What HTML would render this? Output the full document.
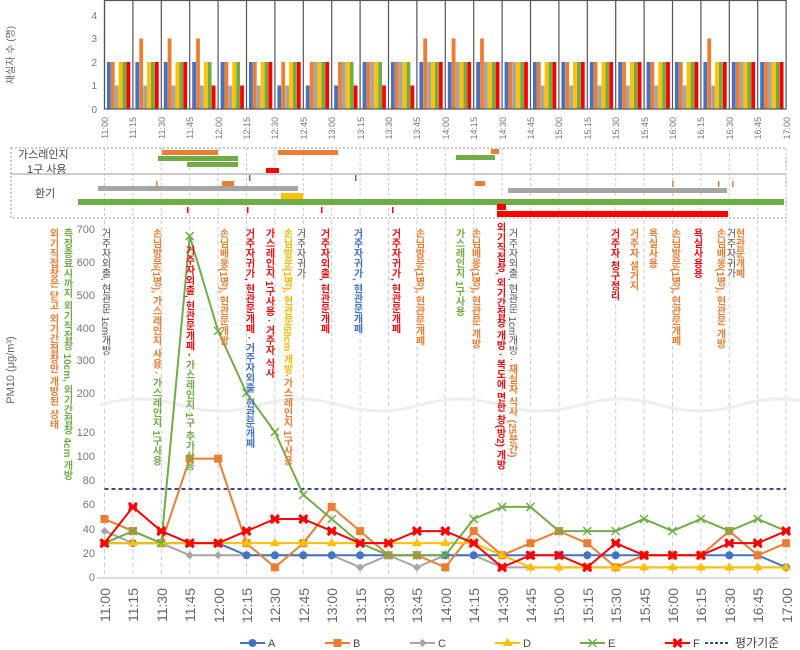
<!DOCTYPE html>
<html><head><meta charset="utf-8">
<style>
body{margin:0;background:#fff;width:800px;height:650px;overflow:hidden;position:relative;font-family:"Liberation Sans","Noto Sans CJK KR",sans-serif;}
svg{position:absolute;left:0;top:0}
.v{position:absolute;writing-mode:vertical-rl;font-size:10px;line-height:11px;font-weight:bold;white-space:nowrap;font-family:"Liberation Sans","Noto Sans CJK KR",sans-serif;}
.o{color:#ED7D31}.g{color:#70AD47}.r{color:#E81010}.k{color:#505050;font-weight:normal}.b{color:#4472C4}.y{color:#F5B800}
</style></head><body>
<svg id="s" width="800" height="650" font-family="Liberation Sans, Noto Sans CJK KR, sans-serif">
<text transform="translate(14,55) rotate(-90)" font-size="10" fill="#666" text-anchor="middle">재실자 수 (명)</text>
<text transform="translate(14,370) rotate(-90)" font-size="11" fill="#666" text-anchor="middle">PM10 (μg/m³)</text>
<g font-size="10" fill="#777" text-anchor="end">
<text x="97" y="113">0</text><text x="97" y="89">1</text><text x="97" y="66">2</text><text x="97" y="42">3</text><text x="97" y="19">4</text>
</g>
<g font-size="11" fill="#777" text-anchor="end">
<text x="95" y="581">0</text><text x="95" y="557">20</text><text x="95" y="533">40</text><text x="95" y="508">60</text><text x="95" y="484">80</text><text x="95" y="460">100</text><text x="95" y="436">120</text>
<text x="95" y="397">200</text><text x="95" y="364">300</text><text x="95" y="332">400</text><text x="95" y="299">500</text><text x="95" y="266">600</text><text x="95" y="233">700</text>
</g>
<g font-size="9" fill="#777" text-anchor="end">
<text transform="translate(108,117) rotate(-90)">11:00</text><text transform="translate(136,117) rotate(-90)">11:15</text><text transform="translate(165,117) rotate(-90)">11:30</text><text transform="translate(193,117) rotate(-90)">11:45</text><text transform="translate(222,117) rotate(-90)">12:00</text><text transform="translate(250,117) rotate(-90)">12:15</text><text transform="translate(278,117) rotate(-90)">12:30</text><text transform="translate(307,117) rotate(-90)">12:45</text><text transform="translate(335,117) rotate(-90)">13:00</text><text transform="translate(364,117) rotate(-90)">13:15</text><text transform="translate(392,117) rotate(-90)">13:30</text><text transform="translate(420,117) rotate(-90)">13:45</text><text transform="translate(449,117) rotate(-90)">14:00</text><text transform="translate(477,117) rotate(-90)">14:15</text><text transform="translate(506,117) rotate(-90)">14:30</text><text transform="translate(534,117) rotate(-90)">14:45</text><text transform="translate(562,117) rotate(-90)">15:00</text><text transform="translate(591,117) rotate(-90)">15:15</text><text transform="translate(619,117) rotate(-90)">15:30</text><text transform="translate(648,117) rotate(-90)">15:45</text><text transform="translate(676,117) rotate(-90)">16:00</text><text transform="translate(704,117) rotate(-90)">16:15</text><text transform="translate(733,117) rotate(-90)">16:30</text><text transform="translate(761,117) rotate(-90)">16:45</text><text transform="translate(790,117) rotate(-90)">17:00</text>
</g>
<g font-size="14" fill="#666" text-anchor="end">
<text transform="translate(110,588) rotate(-90)">11:00</text><text transform="translate(138,588) rotate(-90)">11:15</text><text transform="translate(167,588) rotate(-90)">11:30</text><text transform="translate(195,588) rotate(-90)">11:45</text><text transform="translate(224,588) rotate(-90)">12:00</text><text transform="translate(252,588) rotate(-90)">12:15</text><text transform="translate(280,588) rotate(-90)">12:30</text><text transform="translate(309,588) rotate(-90)">12:45</text><text transform="translate(337,588) rotate(-90)">13:00</text><text transform="translate(366,588) rotate(-90)">13:15</text><text transform="translate(394,588) rotate(-90)">13:30</text><text transform="translate(422,588) rotate(-90)">13:45</text><text transform="translate(451,588) rotate(-90)">14:00</text><text transform="translate(479,588) rotate(-90)">14:15</text><text transform="translate(508,588) rotate(-90)">14:30</text><text transform="translate(536,588) rotate(-90)">14:45</text><text transform="translate(564,588) rotate(-90)">15:00</text><text transform="translate(593,588) rotate(-90)">15:15</text><text transform="translate(621,588) rotate(-90)">15:30</text><text transform="translate(650,588) rotate(-90)">15:45</text><text transform="translate(678,588) rotate(-90)">16:00</text><text transform="translate(706,588) rotate(-90)">16:15</text><text transform="translate(735,588) rotate(-90)">16:30</text><text transform="translate(763,588) rotate(-90)">16:45</text><text transform="translate(792,588) rotate(-90)">17:00</text>
</g>
<g font-size="11" fill="#444">
<text x="18" y="158">가스레인지</text><text x="27" y="173">1구 사용</text><text x="35" y="197">환기</text>
<text x="268" y="647">A</text><text x="353" y="647">B</text><text x="438" y="647">C</text><text x="523" y="647">D</text><text x="608" y="647">E</text><text x="693" y="647">F</text><text x="735" y="647" font-size="12">평가기준</text>
</g>
</svg>

<div class="v o" style="left:47px;top:228px">외기직접창은 닫고 외기간접창만 개방된 상태</div>
<div class="v g" style="left:61px;top:228px">측정종료시까지 외기직접창 10cm, 외기간접창 4cm 개방</div>
<div class="v k" style="left:99px;top:228px">거주자외출, 현관문 1cm개방</div>
<div class="v o" style="left:150px;top:228px">손님방문(1명), 가스레인지 사용 · <span class="g">가스레인지 1구사용</span></div>
<div class="v r" style="left:183px;top:245px">거주자외출, 현관문개폐 · <span class="g">가스레인지 1구 추가사용</span></div>
<div class="v o" style="left:217px;top:228px">손님배웅(1명), 현관문개방</div>
<div class="v r" style="left:243px;top:228px">거주자귀가, 현관문개폐 · <span class="b">거주자외출, 현관문개폐</span></div>
<div class="v r" style="left:263px;top:228px">가스레인지 1구사용 · 거주자 식사</div>
<div class="v y" style="left:281px;top:228px">손님방문(1명), 현관문50cm 개방<span class="o">·가스레인지 1구사용</span></div>
<div class="v k" style="left:294px;top:228px">거주자귀가</div>
<div class="v r" style="left:318px;top:228px">거주자외출, 현관문개폐</div>
<div class="v b" style="left:351px;top:228px">거주자귀가, 현관문개폐</div>
<div class="v r" style="left:389px;top:228px">거주자귀가, 현관문개폐</div>
<div class="v o" style="left:413px;top:228px">손님방문(1명), 현관문개폐</div>
<div class="v g" style="left:453px;top:228px">가스레인지 1구사용</div>
<div class="v o" style="left:469px;top:228px">손님배웅(1명), 현관문 개방</div>
<div class="v r" style="left:494px;top:222px">외기직접창, 외기간접창 개방 · 복도에 면한 창(방2) 개방</div>
<div class="v k" style="left:506px;top:228px">거주자외출, 현관문 1cm개방 · <span class="o" style="font-weight:bold">재실자 식사 (25분간)</span></div>
<div class="v r" style="left:608px;top:228px">거주자 청구정리</div>
<div class="v o" style="left:627px;top:228px">거주자 설거지</div>
<div class="v o" style="left:646px;top:228px">욕실사용</div>
<div class="v o" style="left:669px;top:228px">손님방문(1명), 현관문개폐</div>
<div class="v r" style="left:691px;top:228px">욕실사용용</div>
<div class="v o" style="left:714px;top:228px">손님배웅(1명), 현관문 개방</div>
<div class="v k" style="left:724px;top:228px">거주자귀가</div>
<div class="v o" style="left:733px;top:228px">현관문개폐</div>

<script>
var s=document.getElementById('s'),NS='http://www.w3.org/2000/svg';
function el(t,a,front){var e=document.createElementNS(NS,t);for(var k in a)e.setAttribute(k,a[k]);if(front)s.insertBefore(e,s.firstChild);else s.appendChild(e);return e;}
var X=function(i){return 104.5+28.4*i;};
var col=['#4472C4','#ED7D31','#A5A5A5','#FFC000','#70AD47','#FF0000'];
var bars=[[2,2,1,2,2,2],[2,3,1,2,2,2],[2,3,1,2,2,2],[2,3,1,2,2,1],[2,2,1,2,2,1],[2,2,1,2,2,2],[1,2,1,2,2,2],[1,2,2,2,2,2],[1,2,2,2,2,1],[2,2,2,2,2,1],[2,2,2,2,2,1],[2,3,2,2,2,2],[2,3,2,2,2,2],[2,3,2,2,2,2],[2,2,2,2,2,2],[2,2,1,2,2,2],[2,2,1,2,2,2],[2,2,1,2,2,2],[2,2,1,2,2,2],[2,2,1,2,2,2],[2,2,1,2,2,2],[2,3,1,2,2,2],[2,2,2,2,2,2],[2,2,2,2,2,2]];
for(var g=0;g<24;g++){for(var j=0;j<6;j++){var h=bars[g][j]*23.5;el('rect',{x:X(g)+2.5+j*3.9,y:109-h,width:3.8,height:h,fill:col[j]});}
 el('line',{x1:X(g),y1:0,x2:X(g),y2:109,stroke:'#555','stroke-width':1.2});}
el('rect',{x:X(0),y:0.5,width:X(24)-X(0),height:108.5,fill:'none',stroke:'#555','stroke-width':1.2});
el('rect',{x:11,y:148,width:775,height:70,fill:'none',stroke:'#999','stroke-dasharray':'2,2'});
el('line',{x1:11,y1:174,x2:786,y2:174,stroke:'#999'});
for(var i=0;i<25;i++){el('line',{x1:X(i),y1:148,x2:X(i),y2:218,stroke:'#ccc','stroke-dasharray':'3,2'});
 el('line',{x1:X(i),y1:220,x2:X(i),y2:577,stroke:'#ccc','stroke-dasharray':'4,3'});}
var mb=[[162,150,56,5,'#ED7D31'],[278,150,60,5,'#ED7D31'],[158,156,80,5,'#70AD47'],[187,162,51,5,'#70AD47'],[266,168,13,5,'#FF0000'],[491,149,8,5,'#ED7D31'],[456,155,39,5,'#70AD47'],[98,186,200,5,'#A5A5A5'],[222,181,12,5,'#ED7D31'],[475,181,10,5,'#ED7D31'],[281,193,22,6,'#FFC000'],[78,199,706,6,'#70AD47'],[497,204,9,6,'#FF0000'],[497,211,231,6,'#FF0000'],[508,188,219,5,'#A5A5A5']];
mb.forEach(function(b){el('rect',{x:b[0],y:b[1],width:b[2],height:b[3],fill:b[4]});});
[[249,175,'#4472C4'],[355,175,'#4472C4'],[156,181,'#ED7D31'],[187,207,'#FF0000'],[247,207,'#FF0000'],[321,207,'#FF0000'],[392,207,'#FF0000'],[672,181,'#ED7D31'],[718,181,'#ED7D31'],[732,181,'#ED7D31']].forEach(function(t){el('rect',{x:t[0],y:t[1],width:1.5,height:6,fill:t[2]});});
el('path',{d:'M100,405 q40,-12 80,0 t80,0 t80,0 t80,0 t80,0 t80,0 t80,0 t80,0 t80,0',fill:'none',stroke:'#eee','stroke-width':3});
el('line',{x1:97,y1:578,x2:790,y2:578,stroke:'#bbb'});
el('line',{x1:X(0),y1:489,x2:786,y2:489,stroke:'#2F4F8F','stroke-width':2,'stroke-dasharray':'4,3'});
function Y(v){if(v<=125)return 577-1.208*v;if(v>=200)return 393-(v-200)*0.327;return 426-(v-125)*33/75;}
var D={A:[28,28,28,28,28,18,18,18,18,18,18,18,18,18,18,18,18,18,18,18,18,18,18,18,8],
B:[48,38,28,98,98,28,8,28,58,38,18,18,8,38,18,28,38,28,8,18,18,18,38,18,28],
C:[38,28,28,18,18,18,18,18,18,8,18,8,18,18,8,8,8,8,8,8,8,8,8,8,8],
D:[28,28,28,28,28,28,28,28,28,28,28,28,28,28,18,8,8,8,8,8,8,8,8,8,8],
E:[28,38,28,680,390,200,120,68,48,28,18,18,18,48,58,58,38,38,38,48,38,48,38,48,38],
F:[28,58,38,28,28,38,48,48,38,28,28,38,38,28,8,18,18,8,28,18,18,18,28,28,38]};
var keys=['C','A','B','D','E','F'],cm={A:col[0],B:col[1],C:col[2],D:col[3],E:col[4],F:col[5]};
function mk(k,x,y){var c=cm[k];
 if(k=='A')el('circle',{cx:x,cy:y,r:4,fill:c});
 else if(k=='B')el('rect',{x:x-4,y:y-4,width:8,height:8,fill:c});
 else if(k=='C')el('path',{d:'M'+x+','+(y-4)+'l4,4l-4,4l-4,-4z',fill:c});
 else if(k=='D')el('path',{d:'M'+x+','+(y-5)+'l5,8h-10z',fill:c});
 else if(k=='E')el('path',{d:'M'+(x-4)+','+(y-4)+'l8,8m0,-8l-8,8',stroke:c,'stroke-width':1.5});
 else el('path',{d:'M'+(x-4)+','+(y-4)+'l8,8m0,-8l-8,8M'+(x-4)+','+y+'h8',stroke:c,'stroke-width':3});}
keys.forEach(function(k){var p=D[k].map(function(v,i){return X(i)+','+Y(v);}).join(' ');
 el('polyline',{points:p,fill:'none',stroke:cm[k],'stroke-width':2});
 D[k].forEach(function(v,i){mk(k,X(i),Y(v));});});
var lx={A:240,B:325,C:410,D:495,E:580,F:665};
for(var k in lx){el('line',{x1:lx[k],y1:643,x2:lx[k]+25,y2:643,stroke:cm[k],'stroke-width':2});mk(k,lx[k]+12.5,643);}
el('line',{x1:705,y1:643,x2:730,y2:643,stroke:'#2F4F8F','stroke-width':2,'stroke-dasharray':'3,2'});
</script>
</body></html>
